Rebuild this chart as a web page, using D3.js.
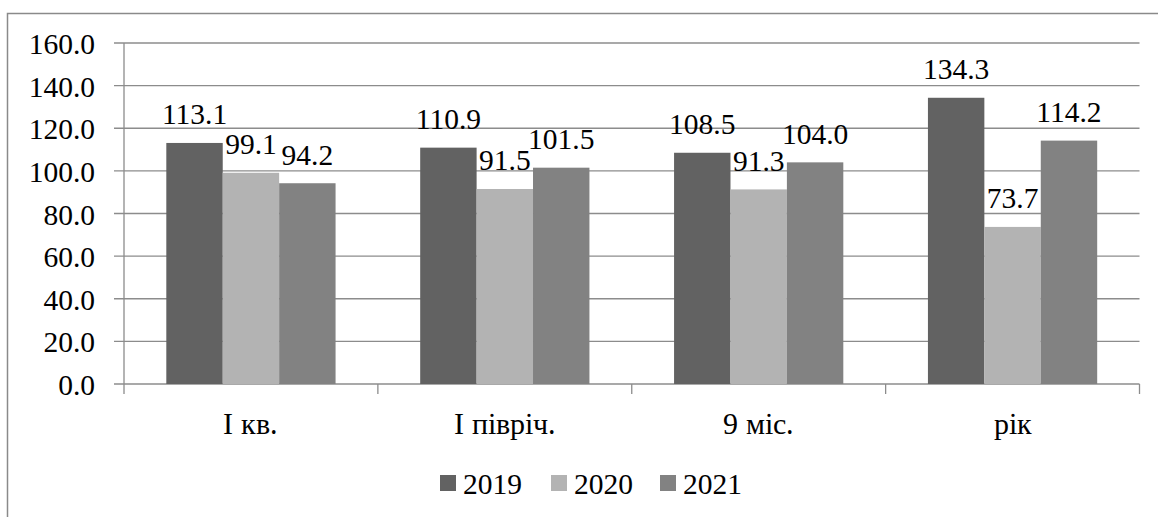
<!DOCTYPE html>
<html>
<head>
<meta charset="utf-8">
<script src="https://cdn.jsdelivr.net/npm/d3@7"></script>
<style>
@font-face { font-family: "ChartSerif"; src: local("Liberation Serif"), local("LiberationSerif"), local("Liberation Serif Regular"), local("LiberationSerif-Regular"); }
</style>
</head>
<body style="margin:0">
<svg id="chart" width="1158" height="517"></svg>
<script>
const categories = ["I кв.", "I півріч.", "9 міс.", "рік"];
const seriesNames = ["2019", "2020", "2021"];
const values2019 = [113.1, 110.9, 108.5, 134.3];
const values2020 = [99.1, 91.5, 91.3, 73.7];
const values2021 = [94.2, 101.5, 104.0, 114.2];
const yTicks = [0, 20, 40, 60, 80, 100, 120, 140, 160];
const seriesColors = ["#626262", "#b3b3b3", "#828282"];

const seriesValues = [values2019, values2020, values2021];

const svg = d3.select("#chart");
const W = 1158, H = 517;
const plot = { left: 124, right: 1139.5, top: 43, bottom: 384 };
const fontSize = 29.5;
const gridColor = "#8c8c8c";

// outer chart border (top and left visible)
svg.append("path")
  .attr("d", `M7.5,${H} L7.5,13.5 L${W},13.5`)
  .attr("fill", "none").attr("stroke", "#8a8a8a").attr("stroke-width", 1.5);

const x0 = d3.scaleBand().domain(categories).range([plot.left, plot.right]).paddingInner(0).paddingOuter(0);
const y = d3.scaleLinear().domain([0, 160]).range([plot.bottom, plot.top]);

const groupInnerFrac = 3 / 4.5;
const x1 = d3.scaleBand().domain(seriesNames)
  .range([0, x0.bandwidth() * groupInnerFrac]).padding(0);
const groupOffset = x0.bandwidth() * (1 - groupInnerFrac) / 2;

// gridlines + left tick marks drawn from the y scale
svg.selectAll("line.grid").data(yTicks).join("line").attr("class", "grid")
  .attr("x1", plot.left - 10).attr("x2", plot.right)
  .attr("y1", d => y(d)).attr("y2", d => y(d))
  .attr("stroke", gridColor).attr("stroke-width", 1.3);
svg.append("line").attr("x1", plot.left).attr("x2", plot.left)
  .attr("y1", y(160)).attr("y2", y(0))
  .attr("stroke", gridColor).attr("stroke-width", 1.3);
// category boundary ticks
const boundaries = categories.map(c => x0(c)).concat([x0(categories[categories.length - 1]) + x0.bandwidth()]);
svg.selectAll("line.bt").data(boundaries).join("line").attr("class", "bt")
  .attr("x1", d => d).attr("x2", d => d).attr("y1", y(0)).attr("y2", y(0) + 10)
  .attr("stroke", gridColor).attr("stroke-width", 1.3);

// y tick labels (A)
svg.selectAll("text.ytl").data(yTicks).join("text").attr("class", "ytl")
  .style("font-family", '"Liberation Serif"').attr("font-size", fontSize).attr("fill", "#000")
  .attr("x", 95).attr("y", d => y(d) + 11)
  .attr("text-anchor", "end")
  .text(d => d3.format(".1f")(d));

// bars
const barData = [];
categories.forEach((c, i) => seriesNames.forEach((s, j) => barData.push({ c, s, j, v: seriesValues[j][i] })));
svg.selectAll("rect.bar").data(barData).join("rect").attr("class", "bar")
  .attr("x", d => x0(d.c) + groupOffset + x1(d.s)).attr("width", x1.bandwidth())
  .attr("y", d => y(d.v)).attr("height", d => y(0) - y(d.v))
  .attr("fill", d => seriesColors[d.j]);

// value labels (D)
svg.selectAll("text.val").data(barData).join("text").attr("class", "val")
  .attr("style", `font: ${fontSize}px Tinos, "Liberation Serif", serif; fill: #000`)
  .attr("x", d => x0(d.c) + groupOffset + x1(d.s) + x1.bandwidth() / 2)
  .attr("y", d => y(d.v) - 18.5)
  .attr("text-anchor", "middle")
  .text(d => d3.format(".1f")(d.v));

// category labels (B)
svg.selectAll("text.cat").data(categories).join("text").attr("class", "cat")
  .style("font-family", "ChartSerif, serif").style("font-size", fontSize + "px").attr("fill", "#000")
  .attr("x", c => x0(c) + x0.bandwidth() / 2)
  .attr("y", 434)
  .attr("text-anchor", "middle")
  .text(c => c);

// legend (C)
const legendX = [440, 551, 660];
svg.selectAll("rect.leg").data(seriesNames).join("rect").attr("class", "leg")
  .attr("x", (d, i) => legendX[i]).attr("y", 475).attr("width", 16).attr("height", 16)
  .attr("fill", (d, i) => seriesColors[i]);
svg.selectAll("text.leg").data(seriesNames).join("text").attr("class", "leg")
  .attr("font-family", "Times New Roman, serif").attr("font-size", fontSize).attr("fill", "#000")
  .attr("x", (d, i) => legendX[i] + 23).attr("y", 494).text(d => d);
</script>
</body>
</html>
